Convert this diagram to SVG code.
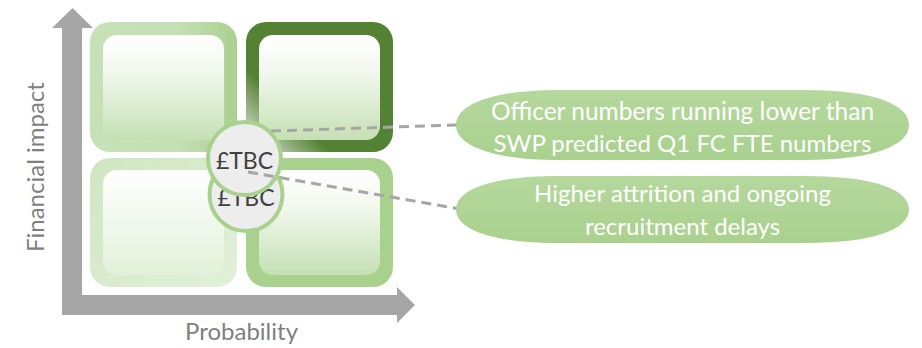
<svg xmlns="http://www.w3.org/2000/svg" width="922" height="348" viewBox="0 0 922 348">
  <style>
    .axis { fill: #a6a6a6; }
    .axis-label { font-family: Lato, "Liberation Sans", Arial, sans-serif; font-size: 24px; fill: #7f7f7f; }
    .badge { fill: #ededed; stroke: #a9d18e; stroke-width: 4; }
    .badge-text { font-family: Lato, "Liberation Sans", Arial, sans-serif; font-size: 23px; fill: #404040; text-anchor: middle; }
    .callout { fill: url(#calloutFill); }
    .callout-text { font-family: Lato, "Liberation Sans", Arial, sans-serif; font-size: 24px; fill: #ffffff; text-anchor: middle; }
    .leader { fill: none; stroke: #a6a6a6; stroke-width: 3; stroke-dasharray: 10 6; }
  </style>
  <defs>
    <linearGradient id="innerFill" x1="0" y1="0" x2="0" y2="1">
      <stop offset="0" stop-color="#ffffff"/>
      <stop offset="0.35" stop-color="#f2f8ee"/>
      <stop offset="1" stop-color="#c5e0b4"/>
    </linearGradient>
    <linearGradient id="innerPale" x1="0" y1="0" x2="0" y2="1">
      <stop offset="0" stop-color="#ffffff"/>
      <stop offset="1" stop-color="#e2f0d9"/>
    </linearGradient>
    <linearGradient id="frameTL" x1="0" y1="0" x2="1" y2="0">
      <stop offset="0" stop-color="#c7e1b7"/>
      <stop offset="0.6" stop-color="#c5e0b4"/>
      <stop offset="1" stop-color="#a9d18e"/>
    </linearGradient>
    <linearGradient id="frameBL" x1="0" y1="0" x2="1" y2="1">
      <stop offset="0" stop-color="#cfe6c1"/>
      <stop offset="1" stop-color="#e2f0d9"/>
    </linearGradient>
    <linearGradient id="frameTR" gradientUnits="userSpaceOnUse" x1="250" y1="152" x2="290" y2="112">
      <stop offset="0" stop-color="#e4e9e0"/>
      <stop offset="1" stop-color="#548235"/>
    </linearGradient>
    <linearGradient id="calloutFill" x1="0" y1="0" x2="0" y2="1">
      <stop offset="0" stop-color="#b5d89d"/>
      <stop offset="1" stop-color="#a9d18e"/>
    </linearGradient>
  </defs>

  <!-- axes -->
  <g id="axes">
    <path class="axis" d="M62 28 L52 28 L72.5 8 L93 28 L82 28 L82 295 L397 295 L397 287 L415 305 L397 323 L397 315 L62 315 Z"/>
    <text class="axis-label" x="185" y="340">Probability</text>
    <text class="axis-label" transform="translate(44 252) rotate(-90)">Financial impact</text>
  </g>

  <!-- risk grid -->
  <g id="quadrant-top-left">
    <rect x="90" y="22" width="147" height="130" rx="20" fill="url(#frameTL)"/>
    <rect x="103" y="35" width="121" height="105" rx="14" fill="url(#innerFill)"/>
  </g>
  <g id="quadrant-top-right">
    <rect x="246" y="22" width="147" height="130" rx="20" fill="url(#frameTR)"/>
    <rect x="259" y="35" width="121" height="105" rx="14" fill="url(#innerFill)"/>
  </g>
  <g id="quadrant-bottom-left">
    <rect x="90" y="158" width="147" height="129" rx="20" fill="url(#frameBL)"/>
    <rect x="103" y="170" width="121" height="105" rx="14" fill="url(#innerPale)"/>
  </g>
  <g id="quadrant-bottom-right">
    <rect x="246" y="158" width="147" height="129" rx="20" fill="#a9d18e"/>
    <rect x="259" y="170" width="121" height="105" rx="14" fill="url(#innerFill)"/>
  </g>

  <!-- risk markers -->
  <g id="marker-attrition">
    <circle class="badge" cx="246" cy="194.5" r="36.5"/>
    <text class="badge-text" x="246" y="206">£TBC</text>
  </g>
  <g id="marker-officer-numbers">
    <circle class="badge" cx="244.5" cy="158.5" r="36.5"/>
    <text class="badge-text" x="244.5" y="169">£TBC</text>
  </g>

  <!-- leader lines -->
  <g id="connectors">
    <line class="leader" x1="271" y1="131" x2="457" y2="125"/>
    <line class="leader" x1="248" y1="172" x2="457" y2="208.5"/>
  </g>

  <!-- callouts: wide ovals with flattened top and bottom -->
  <g id="callout-officer-numbers">
    <path class="callout" d="M456 125 C456 105 490 90 560 90 L805 90 C875 90 909 105 909 125 C909 145 875 160 805 160 L560 160 C490 160 456 145 456 125 Z"/>
    <text class="callout-text" x="682.5" y="120" style="font-size:24.5px">Officer numbers running lower than</text>
    <text class="callout-text" x="682.5" y="152">SWP predicted Q1 FC FTE numbers</text>
  </g>
  <g id="callout-attrition">
    <path class="callout" d="M456 209.5 C456 190 490 176 560 176 L805 176 C875 176 909 190 909 209.5 C909 229 875 243 805 243 L560 243 C490 243 456 229 456 209.5 Z"/>
    <text class="callout-text" x="682.5" y="202">Higher attrition and ongoing</text>
    <text class="callout-text" x="682.5" y="235">recruitment delays</text>
  </g>
</svg>
